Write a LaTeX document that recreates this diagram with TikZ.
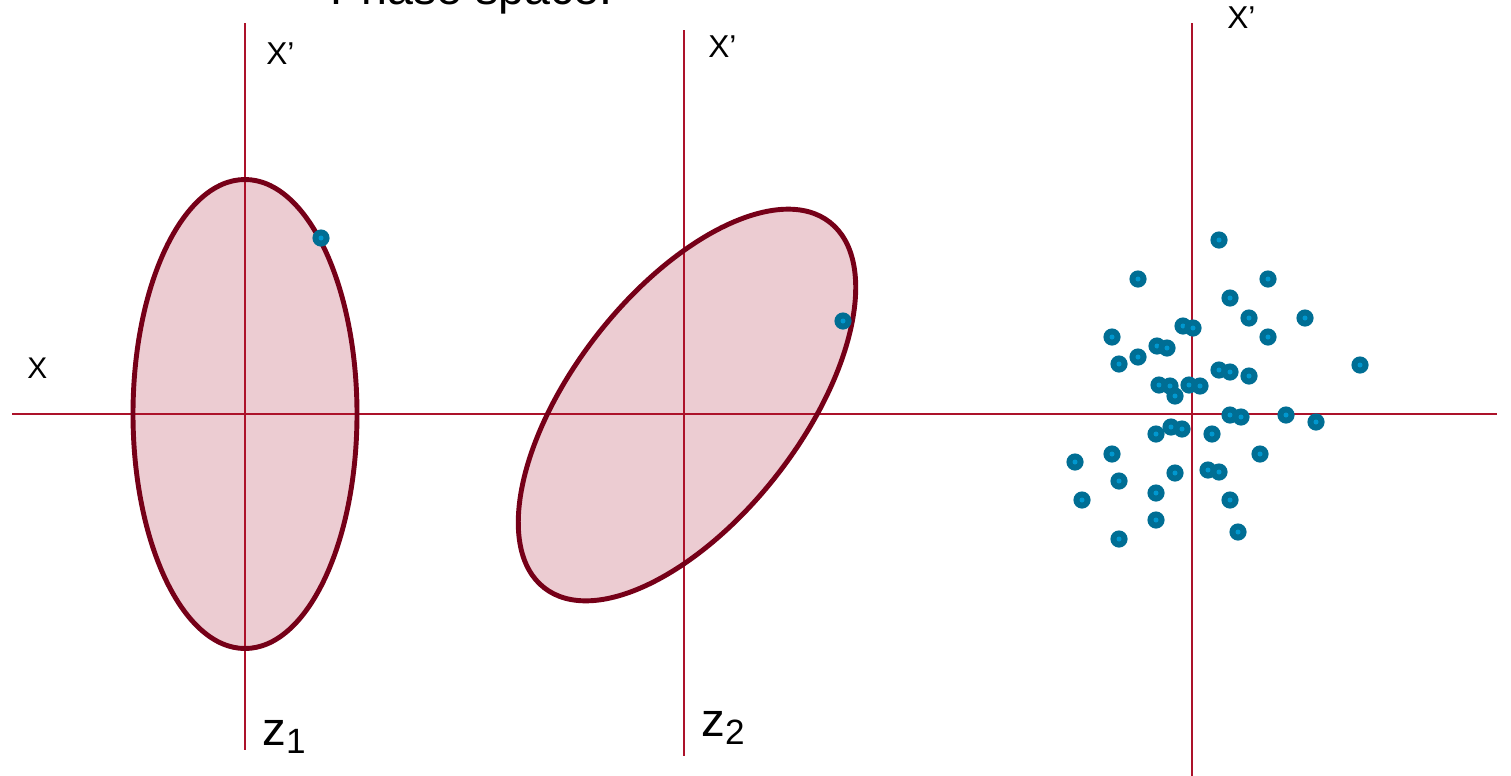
\documentclass[tikz,border=0pt]{standalone}
\usepackage{fontspec}
\setmainfont{Liberation Sans}
\definecolor{axisred}{RGB}{172,18,42}
\definecolor{rimred}{RGB}{118,0,24}
\definecolor{blobpink}{RGB}{236,204,210}
\definecolor{dotteal}{RGB}{0,110,148}
\definecolor{dotcore}{RGB}{0,152,208}

\tikzset{
  axis/.style={axisred, line width=0.85pt},
  blobfill/.style={fill=blobpink},
  blobrim/.style={rimred, line width=2.8pt},
  lbl/.style={inner sep=0pt, anchor=base west, font=\fontsize{18}{20}\selectfont},
  zlbl/.style={inner sep=0pt, anchor=base west, font=\fontsize{27}{30}\selectfont}
}
\newcommand\particle[1]{%
  \fill[dotteal] #1 circle (0.172cm);
  \fill[dotcore] #1 circle (0.05cm);}

\begin{document}
\begin{tikzpicture}[x=0.02cm, y=-0.02cm]
  \clip (0,0) rectangle (1511,775);
  % ellipse centres
  \coordinate (E1) at (245,414);
  \coordinate (E2) at (687,405);
  % axis ends
  \coordinate (Xw) at (12,414);
  \coordinate (Xe) at (1497,414);
  \coordinate (A1) at (245,23);
  \coordinate (B1) at (245,750);
  \coordinate (A2) at (684,30);
  \coordinate (B2) at (684,756);
  \coordinate (A3) at (1192,23);
  \coordinate (B3) at (1192,780);

  \fill[blobfill] (E1) ellipse [x radius=112, y radius=234.5];
  \fill[blobfill, rotate around={52:(E2)}] (E2) ellipse [x radius=4.64cm, y radius=2.28cm];

  \draw[axis] (Xw) -- (Xe) (A1) -- (B1) (A2) -- (B2) (A3) -- (B3);

  \draw[blobrim] (E1) ellipse [x radius=112, y radius=234.5];
  \draw[blobrim, rotate around={52:(E2)}] (E2) ellipse [x radius=4.64cm, y radius=2.28cm];

  \particle{(321,238)}
  \particle{(843,321)}
  \foreach \x/\y in {1219/240, 1138/279, 1268/279, 1230/298, 1249/318, 1305/318,
      1183/326, 1193/328, 1112/337, 1268/337, 1157/346, 1167/348, 1138/357,
      1119/364, 1360/365, 1219/370, 1230/372, 1249/376, 1159/385, 1170/386,
      1189/385, 1200/386, 1175/396, 1230/415, 1241/417, 1286/415, 1316/422,
      1171/427, 1182/429, 1156/434, 1212/434, 1112/454, 1260/454, 1075/462,
      1208/470, 1219/472, 1175/473, 1119/481, 1156/493, 1082/500, 1230/500,
      1156/520, 1238/532, 1119/539}
    {\particle{(\x,\y)}}

  \node[inner sep=0pt, anchor=base west, font=\fontsize{26.5}{30}\selectfont] (title) at (330,4) {Phase space:};
  \node[lbl] (xp1) at (266,64) {X’};
  \node[lbl] (xp2) at (708,57) {X’};
  \node[lbl] (xp3) at (1227,28) {X’};
  \node[lbl, font=\fontsize{17}{20}\selectfont] (x) at (27,378) {X};
  \node[zlbl] (z1) at (262,745) {z\raisebox{-5pt}{\fontsize{20}{22}\selectfont 1}};
  \node[zlbl] (z2) at (701,736) {z\raisebox{-5pt}{\fontsize{20}{22}\selectfont 2}};
\end{tikzpicture}
\end{document}
